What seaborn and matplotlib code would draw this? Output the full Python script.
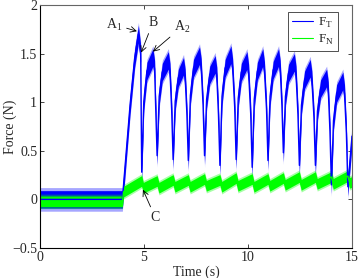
import matplotlib
matplotlib.use("Agg")
import matplotlib.pyplot as plt
import pandas as pd
import seaborn as sns

# key points of the tangential force trace (s, N)
ft_time = [0.00, 3.96, 4.33, 4.55, 4.73, 4.84, 4.89,
           4.99, 5.14, 5.43, 5.51, 5.56, 5.63,
           5.73, 5.88, 6.17, 6.25, 6.33, 6.40,
           6.50, 6.65, 6.90, 6.98, 7.06, 7.13,
           7.23, 7.38, 7.67, 7.75, 7.84, 7.91,
           8.01, 8.16, 8.42, 8.50, 8.58, 8.65,
           8.75, 8.90, 9.18, 9.26, 9.36, 9.43,
           9.53, 9.68, 9.95, 10.03, 10.13, 10.20,
           10.30, 10.45, 10.71, 10.79, 10.89, 10.96,
           11.06, 11.21, 11.47, 11.55, 11.63, 11.70,
           11.80, 11.95, 12.23, 12.31, 12.40, 12.47,
           12.57, 12.72, 12.99, 13.07, 13.17, 13.24,
           13.34, 13.49, 13.78, 13.86, 13.94, 14.01,
           14.11, 14.26, 14.56, 14.64, 14.73, 14.80,
           15.00]
ft_force = [0.00, 0.00, 0.97, 1.45, 1.70, 1.50, 0.28,
            1.01, 1.32, 1.46, 1.34, 0.96, 0.45,
            1.06, 1.31, 1.43, 1.31, 0.92, 0.41,
            1.01, 1.25, 1.37, 1.25, 0.89, 0.40,
            1.07, 1.35, 1.48, 1.36, 0.97, 0.45,
            1.03, 1.28, 1.39, 1.27, 0.87, 0.35,
            1.06, 1.35, 1.49, 1.36, 0.95, 0.41,
            1.04, 1.31, 1.43, 1.30, 0.88, 0.33,
            1.03, 1.32, 1.46, 1.33, 0.93, 0.40,
            1.06, 1.33, 1.46, 1.34, 0.97, 0.48,
            1.06, 1.30, 1.41, 1.28, 0.88, 0.35,
            0.97, 1.23, 1.35, 1.23, 0.85, 0.35,
            0.91, 1.14, 1.25, 1.12, 0.70, 0.15,
            0.81, 1.09, 1.22, 1.09, 0.68, 0.13,
            0.65]
ft_noise = 0.09

# key points of the normal force trace
fn_time = [0.00, 3.96, 4.02, 4.89, 4.97, 5.63, 5.72, 6.40, 6.49,
           7.13, 7.22, 7.91, 8.00, 8.65, 8.74, 9.43, 9.52,
           10.20, 10.29, 10.96, 11.05, 11.70, 11.79, 12.47, 12.56,
           13.24, 13.33, 14.01, 14.10, 14.80, 14.89, 15.00]
fn_force = [-0.02, -0.02, 0.08, 0.19, 0.12, 0.19, 0.12, 0.20, 0.13,
            0.20, 0.13, 0.21, 0.14, 0.20, 0.13, 0.22, 0.14,
            0.21, 0.13, 0.21, 0.14, 0.22, 0.15, 0.23, 0.15,
            0.23, 0.16, 0.23, 0.16, 0.24, 0.17, 0.18]
fn_noise = 0.055

x_ticks = [0, 5, 10, 15]
y_ticks = [-0.5, 0, 0.5, 1, 1.5, 2]

sns.set_style("ticks")
plt.rcParams["font.family"] = ["Liberation Serif", "DejaVu Serif"]
plt.rcParams["mathtext.fontset"] = "custom"
plt.rcParams["mathtext.rm"] = "Liberation Serif"
plt.rcParams["font.size"] = 10

ft = pd.DataFrame({"t": ft_time, "f": ft_force})
fn = pd.DataFrame({"t": fn_time, "f": fn_force})

fig = plt.figure(figsize=(3.59, 2.78), dpi=100)
ax = fig.add_axes([40 / 359, 30 / 278, 312 / 359, 243 / 278])

# noisy traces: solid core band plus a lighter fringe
for df, col, w in [(ft, "#0000ff", ft_noise), (fn, "#00ff00", fn_noise)]:
    ax.fill_between(df["t"], df["f"] - w * 1.35, df["f"] + w * 1.35,
                    color=col, alpha=0.35, lw=0)
    ax.fill_between(df["t"], df["f"] - w, df["f"] + w, color=col, lw=0)

sns.lineplot(data=ft, x="t", y="f", color="#0000ff", lw=1.0,
             label=r"F$_\mathrm{T}$", ax=ax)
sns.lineplot(data=fn, x="t", y="f", color="#00ff00", lw=1.0,
             label=r"F$_\mathrm{N}$", ax=ax)

arrow = dict(arrowstyle="->", color="k", lw=0.6, shrinkA=1, shrinkB=0)
ax.annotate(r"A$_1$", xy=(4.66, 1.73), xytext=(3.55, 1.80),
            ha="center", va="center", arrowprops=arrow)
ax.annotate("B", xy=(4.86, 1.51), xytext=(5.43, 1.82),
            ha="center", va="center", arrowprops=arrow)
ax.annotate(r"A$_2$", xy=(5.43, 1.52), xytext=(6.85, 1.78),
            ha="center", va="center", arrowprops=arrow)
ax.annotate("C", xy=(4.95, 0.10), xytext=(5.55, -0.19),
            ha="center", va="center", arrowprops=arrow)

ax.set_xlim(0, 15)
ax.set_ylim(-0.5, 2)
ax.set_xticks(x_ticks)
ax.set_xticklabels([str(v) for v in x_ticks])
ax.set_yticks(y_ticks)
ax.set_yticklabels(["\u22120.5", "0", "0.5", "1", "1.5", "2"])
ax.tick_params(direction="in", length=3, width=0.6, top=True, right=True,
               labelsize=10, pad=2)
for s in ["left", "bottom"]:
    ax.spines[s].set_color("black")
    ax.spines[s].set_linewidth(0.8)
for s in ["top", "right"]:
    ax.spines[s].set_visible(True)
    ax.spines[s].set_color("#666666")
    ax.spines[s].set_linewidth(0.8)
ax.set_xlabel("Time (s)", labelpad=1)
ax.set_ylabel("Force (N)")
ax.yaxis.set_label_coords(-0.075, 0.5)

leg = ax.legend(loc="upper right", bbox_to_anchor=(0.955, 0.972),
                borderaxespad=0, fancybox=False, framealpha=1,
                handlelength=1.6, handletextpad=0.35, labelspacing=0.2,
                borderpad=0.3, fontsize=9.5)
leg.get_frame().set_edgecolor("#333333")
leg.get_frame().set_linewidth(0.6)
for h in leg.get_lines():
    h.set_linewidth(0.8)

fig.savefig("out.png", dpi=100)
